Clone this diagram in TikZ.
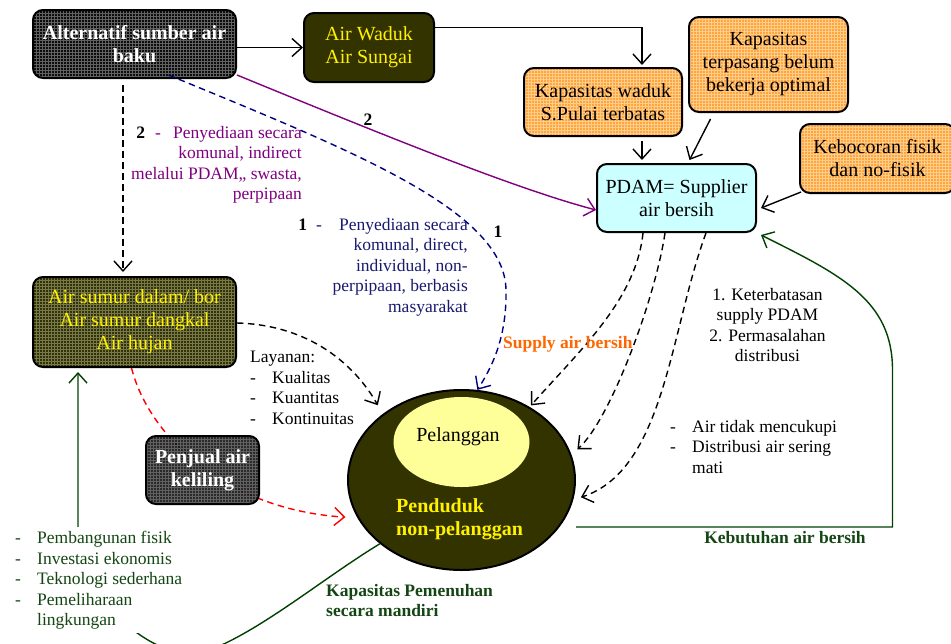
\documentclass[tikz,border=0pt]{standalone}
\usepackage{fontspec}
\setmainfont{Liberation Serif}
\usetikzlibrary{arrows.meta,patterns,shapes.geometric}

\definecolor{olivedk}{RGB}{51,51,0}
\definecolor{orng}{RGB}{255,165,60}
\definecolor{cyanlt}{RGB}{204,255,255}
\definecolor{yellowlt}{RGB}{255,255,153}
\definecolor{prpl}{RGB}{128,0,128}
\definecolor{navyln}{RGB}{0,0,128}
\definecolor{navytxt}{RGB}{25,25,112}
\definecolor{orngtxt}{RGB}{255,102,0}
\definecolor{grn}{RGB}{0,64,0}
\definecolor{grntxt}{RGB}{20,70,20}

\newcommand{\bxfont}{\fontsize{20}{23}\selectfont}
\newcommand{\ntfont}{\fontsize{17.5}{20.5}\selectfont}
\newcommand{\dsh}{\makebox[22pt][l]{-}}

\tikzstyle{rbox} = [draw=black, line width=2pt, rectangle, rounded corners=10pt,
    align=center, inner sep=2pt, font=\bxfont]
\tikzstyle{darkbox} = [rbox, preaction={fill=black!95}, pattern=grid,
    pattern color=black!62, text=white, font=\bxfont\bfseries]
\tikzstyle{olivebox} = [rbox, fill=olivedk, text=yellow]
\tikzstyle{meshbox} = [rbox, preaction={fill=olivedk}, pattern=grid,
    pattern color={rgb,255:red,120;green,120;blue,80}, text=yellow]
\tikzstyle{orangebox} = [rbox, preaction={fill=orng}, pattern=grid,
    pattern color={rgb,255:red,255;green,205;blue,140}]
\tikzstyle{pdambox} = [rbox, fill=cyanlt]
\tikzstyle{notetxt} = [inner sep=0pt, font=\ntfont]
\tikzstyle{arr} = [line width=1.4pt, -{Straight Barb[length=10pt,width=18pt]}]
\tikzstyle{dline} = [arr, dash pattern=on 6.5pt off 4.5pt]
\tikzstyle{grnline} = [arr, draw=grn]

\begin{document}
\begin{tikzpicture}[x=1pt,y=-1pt]
\useasboundingbox (0,0) rectangle (951,643);
\clip (0,0) rectangle (951,643);

% sources and PDAM side
\node[darkbox, minimum width=203pt, minimum height=68pt] (alt) at (134.5,44) {Alternatif sumber air\\baku};
\node[olivebox, minimum width=130pt, minimum height=69pt] (waduk) at (369,47.5) {Air Waduk\\Air Sungai};
\node[orangebox, minimum width=158pt, minimum height=68pt] (kwaduk) at (603,102) {Kapasitas waduk\\S.Pulai terbatas};
\node[orangebox, minimum width=159pt, minimum height=95pt] (kterp) at (768.5,64.5) {Kapasitas\\terpasang belum\\bekerja optimal};
\node[orangebox, minimum width=155pt, minimum height=69pt] (kboc) at (877.5,158.5) {Kebocoran fisik\\dan no-fisik};
\node[pdambox, minimum width=159pt, minimum height=68pt] (pdam) at (676.5,198) {PDAM= Supplier\\air bersih};
\node[meshbox, minimum width=203pt, minimum height=90pt] (sumur) at (134.5,322) {Air sumur dalam/ bor\\Air sumur dangkal\\Air hujan};

% penduduk
\node[ellipse, draw=black, line width=2pt, fill=olivedk, minimum width=227pt, minimum height=180pt, inner sep=0pt] (pend) at (461.5,480) {};
\node[ellipse, fill=yellowlt, minimum width=136pt, minimum height=90pt, inner sep=0pt] (pel) at (461.5,442) {};
\node[font=\bxfont, anchor=base] (pellbl) at (458,441) {Pelanggan};
\node[font=\bxfont\bfseries, text=yellow, align=left, anchor=north west, inner sep=0pt] (nonpel) at (396,498) {Penduduk\\non-pelanggan};

\draw[dline, draw=red, shorten >=12pt] ([xshift=-3pt]sumur.south) .. controls (150,440) and (230,510) .. (pend.200);
\node[rbox, preaction={fill=black!95, fill opacity=.88}, pattern=grid, pattern color=black!62,
    text=white, font=\bxfont\bfseries, minimum width=113pt, minimum height=68pt] (penjual) at (202.5,470) {Penjual air\\keliling};

% arrows between the boxes
\draw[arr] (alt.east |- waduk.west) -- (waduk.west);
\draw[arr, shorten >=2pt] ([yshift=20pt]waduk.east) -| ([xshift=39pt]kwaduk.north);
\draw[arr, shorten <=4pt, shorten >=3pt] ([xshift=39pt]kwaduk.south) -- ([xshift=39pt]kwaduk.south |- pdam.north);
\draw[arr] ([xshift=-58pt,yshift=-6pt]kterp.south) -- ([xshift=13pt,yshift=3pt]pdam.north);
\draw[arr] ([xshift=2pt,yshift=2pt]kboc.south west) -- ([xshift=4pt,yshift=-10pt]pdam.east);

\draw[arr, draw=prpl] ([yshift=4pt]alt.south east) .. controls (400,142) and (520,190) .. ([yshift=-12pt]pdam.west);
\draw[dline, draw=navyln] ([xshift=34pt,yshift=4pt]alt.south) .. controls (350,150) and (505,210) .. (506,290)
    .. controls (507,340) and (490,370) .. (pend.80);
\draw[dline, shorten <=6pt, shorten >=4pt] ([xshift=-11.5pt]alt.south) -- ([xshift=-11.5pt]sumur.north);
\draw[dline, shorten >=10pt] ([yshift=-1pt]sumur.east) .. controls (310,325) and (355,365) .. (pend.140);

\draw[dline, shorten >=2pt] ([xshift=-33.5pt]pdam.south) .. controls (636,300) and (580,350) .. (pend.47);
\draw[dline, shorten >=8pt] ([xshift=-11.5pt]pdam.south) .. controls (655,300) and (610,420) .. (pend.13);
\draw[dline, shorten >=8pt] ([xshift=29.5pt]pdam.south) .. controls (670,330) and (665,470) .. (pend.-10);

\draw[grnline] ([yshift=-47pt]pend.east) -- ++(316.5,0) -- ++(0,-157)
    .. controls +(0,-70) and +(80,40) .. ([xshift=4pt,yshift=-2pt]pdam.south east);
\draw[grnline, shorten >=4pt] (pend.218) .. controls (320,580) and (250,640) .. (195,655)
    .. controls (150,655) and (78,600) .. (78,526) -- ([xshift=-56.5pt]sumur.south);

% labels
\node[font=\ntfont\bfseries, anchor=base] (num2) at (368,125) {2};
\node[font=\ntfont\bfseries, anchor=base] (num1) at (498,237) {1};
\node[notetxt, text=prpl, align=right, anchor=north east] (ket2) at (302,126)
    {\textcolor{black}{\textbf{2}}\hspace{10pt}-\hspace{12pt}Penyediaan secara\\komunal, indirect\\melalui PDAM,, swasta,\\perpipaan};
\node[notetxt, text=navytxt, align=right, anchor=north east] (ket1) at (468,218)
    {\textcolor{black}{\textbf{1}}\hspace{9pt}-\hspace{17pt}Penyediaan secara\\komunal, direct,\\individual, non-\\perpipaan, berbasis\\masyarakat};
\node[notetxt, align=left, anchor=north west] (layanan) at (250,351)
    {Layanan:\\\dsh Kualitas\\\dsh Kuantitas\\\dsh Kontinuitas};
\node[notetxt, font=\ntfont\bfseries, text=orngtxt, anchor=base west] (supply) at (503,348) {Supply air bersih};
\node[notetxt, align=center, anchor=north] (masalah) at (767.5,288)
    {1. Keterbatasan\\supply PDAM\\2. Permasalahan\\distribusi};
\node[notetxt, align=left, anchor=north west] (kondisi) at (670,420)
    {\dsh Air tidak mencukupi\\\dsh Distribusi air sering\\\hspace{22pt}mati};
\node[notetxt, font=\ntfont\bfseries, text=grntxt, anchor=base] (kebutuhan) at (785,543) {Kebutuhan air bersih};
\node[notetxt, font=\ntfont\bfseries, text=grntxt, align=left, anchor=north west] (mandiri) at (326,584)
    {Kapasitas Pemenuhan\\secara mandiri};
\node[notetxt, text=grntxt, align=left, anchor=north west, fill=white, inner ysep=4pt] (upaya) at (15,527)
    {\dsh Pembangunan fisik\\\dsh Investasi ekonomis\\\dsh Teknologi sederhana\\\dsh Pemeliharaan\\\hspace{22pt}lingkungan};
\end{tikzpicture}
\end{document}
